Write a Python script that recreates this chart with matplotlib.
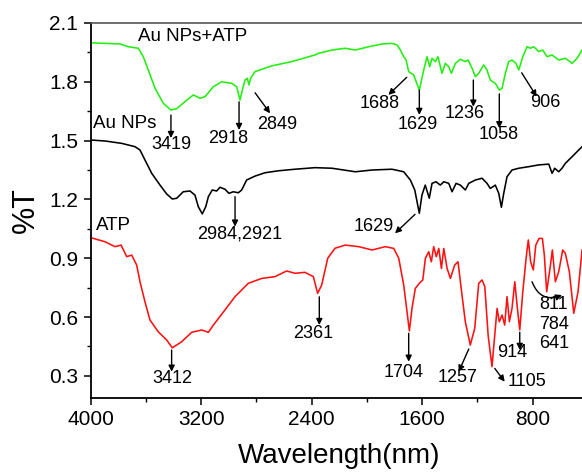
import matplotlib
matplotlib.use("Agg")
import matplotlib.pyplot as plt
from matplotlib.ticker import MultipleLocator

plt.rcParams['font.family'] = ['Liberation Sans', 'DejaVu Sans']

# Au NPs+ATP (green), wavenumber / %T
wn_green = [4000, 3896, 3788, 3728, 3655, 3619, 3583, 3534, 3474, 3419, 3377, 3317,
            3257, 3209, 3172, 3112, 3052, 2979, 2943, 2919, 2902, 2883, 2866, 2854,
            2842, 2810, 2690, 2545, 2376, 2352, 2253, 2157, 2084, 1987, 1891, 1819,
            1782, 1758, 1734, 1717, 1698, 1662, 1621, 1589, 1565, 1546, 1529, 1505,
            1486, 1457, 1433, 1408, 1389, 1360, 1324, 1288, 1268, 1239, 1215, 1191,
            1155, 1131, 1107, 1071, 1042, 1022, 998, 974, 950, 921, 901, 872, 841,
            817, 793, 757, 728, 696, 660, 612, 564, 515, 479, 443]
t_green = [1.999, 1.996, 1.993, 1.979, 1.971, 1.928, 1.860, 1.767, 1.690, 1.656, 1.663, 1.699,
           1.733, 1.716, 1.724, 1.775, 1.800, 1.792, 1.775, 1.707, 1.758, 1.809, 1.818, 1.784,
           1.818, 1.852, 1.881, 1.903, 1.937, 1.945, 1.962, 1.971, 1.962, 1.979, 1.993, 1.996,
           1.988, 1.962, 1.928, 1.911, 1.852, 1.835, 1.758, 1.860, 1.928, 1.877, 1.920, 1.903,
           1.928, 1.843, 1.894, 1.877, 1.843, 1.894, 1.915, 1.903, 1.911, 1.869, 1.826, 1.843,
           1.886, 1.860, 1.809, 1.792, 1.758, 1.767, 1.843, 1.903, 1.911, 1.894, 1.860, 1.928, 1.979,
           1.971, 1.979, 1.954, 1.962, 1.928, 1.937, 1.911, 1.920, 1.894, 1.920, 1.962]

# Au NPs (black)
wn_black = [4000, 3896, 3776, 3679, 3643, 3607, 3558, 3498, 3450, 3409, 3377, 3330,
            3281, 3245, 3221, 3192, 3167, 3148, 3120, 3088, 3064, 3028, 2999, 2968,
            2931, 2907, 2871, 2810, 2738, 2642, 2521, 2376, 2253, 2084, 1963, 1819,
            1734, 1686, 1654, 1621, 1602, 1578, 1549, 1529, 1500, 1469, 1444, 1408,
            1384, 1355, 1324, 1288, 1263, 1215, 1167, 1131, 1107, 1071, 1046, 1027,
            1010, 986, 950, 901, 829, 757, 684, 660, 641, 612, 588, 564, 515, 467, 443]
t_black = [1.503, 1.498, 1.486, 1.469, 1.452, 1.401, 1.333, 1.273, 1.228, 1.202, 1.206, 1.239,
           1.243, 1.222, 1.163, 1.126, 1.163, 1.214, 1.248, 1.243, 1.262, 1.252, 1.231, 1.239,
           1.234, 1.248, 1.299, 1.319, 1.336, 1.346, 1.354, 1.362, 1.359, 1.341, 1.350, 1.354,
           1.341, 1.299, 1.248, 1.129, 1.222, 1.273, 1.206, 1.282, 1.290, 1.273, 1.290, 1.282,
           1.239, 1.282, 1.273, 1.248, 1.282, 1.299, 1.308, 1.282, 1.256, 1.273, 1.231, 1.160,
           1.231, 1.316, 1.350, 1.359, 1.367, 1.376, 1.380, 1.333, 1.359, 1.341, 1.359, 1.384,
           1.418, 1.452, 1.469]

# ATP (red)
wn_red = [4000, 3896, 3824, 3780, 3739, 3703, 3667, 3643, 3607, 3571, 3511, 3450,
          3409, 3341, 3269, 3196, 3148, 3112, 3028, 2955, 2859, 2762, 2666, 2581,
          2521, 2449, 2388, 2357, 2328, 2284, 2231, 2157, 2060, 1963, 1867, 1806,
          1770, 1734, 1710, 1693, 1674, 1650, 1621, 1596, 1577, 1553, 1534, 1517,
          1498, 1480, 1461, 1444, 1420, 1396, 1365, 1341, 1312, 1288, 1252, 1220,
          1191, 1167, 1147, 1123, 1095, 1075, 1058, 1042, 1022, 1003, 986, 969, 950,
          930, 911, 894, 872, 848, 832, 815, 796, 778, 754, 730, 716, 699, 675, 658,
          636, 612, 583, 564, 535, 503, 472, 443]
t_red = [1.005, 0.984, 0.959, 0.967, 0.908, 0.916, 0.865, 0.780, 0.678, 0.585, 0.525, 0.483,
         0.443, 0.474, 0.522, 0.534, 0.522, 0.559, 0.636, 0.704, 0.772, 0.797, 0.806, 0.835,
         0.823, 0.828, 0.806, 0.721, 0.763, 0.900, 0.951, 0.967, 0.959, 0.942, 0.959, 0.950,
         0.900, 0.763, 0.627, 0.529, 0.644, 0.746, 0.772, 0.789, 0.900, 0.933, 0.882, 0.959,
         0.908, 0.950, 0.848, 0.950, 0.848, 0.797, 0.865, 0.882, 0.712, 0.576, 0.457, 0.542,
         0.772, 0.789, 0.755, 0.508, 0.347, 0.508, 0.644, 0.576, 0.610, 0.559, 0.704, 0.576, 0.644,
         0.780, 0.644, 0.534, 0.729, 0.900, 0.993, 0.882, 0.840, 0.967, 1.001, 1.001, 0.916,
         0.729, 0.848, 0.942, 0.780, 0.831, 0.942, 0.925, 0.831, 0.619, 0.729, 0.942]

x_ticks = [4000, 3200, 2400, 1600, 800]
y_ticks = [0.3, 0.6, 0.9, 1.2, 1.5, 1.8, 2.1]


def mark(ax, label, tip, start, txt, rad=0.0):
    # arrow from the peak to the label, label text placed separately
    ax.annotate('', xy=tip, xytext=start,
                arrowprops=dict(arrowstyle='-|>', color='k', lw=1.0,
                                mutation_scale=9, shrinkA=0, shrinkB=0,
                                connectionstyle='arc3,rad=%s' % rad))
    ax.text(txt[0], txt[1], label, fontsize=13, ha='center', va='center')


def main():
    fig = plt.figure(figsize=(5.82, 4.72), dpi=100)
    ax = fig.add_axes([0.1558, 0.1568, 0.8545, 0.7945])

    ax.plot(wn_green, t_green, color='#22f011', lw=1.15)
    ax.plot(wn_black, t_black, color='black', lw=1.15)
    ax.plot(wn_red, t_red, color='#ff1111', lw=1.15)

    ax.set_xlim(4000, 400)
    ax.set_ylim(0.187, 2.1)
    ax.set_xticks(x_ticks)
    ax.set_yticks(y_ticks)
    ax.set_yticklabels(['%.1f' % v for v in y_ticks])
    ax.xaxis.set_minor_locator(MultipleLocator(400))
    ax.yaxis.set_minor_locator(MultipleLocator(0.15))
    ax.tick_params(which='major', direction='out', length=5, width=1.1,
                   labelsize=15, pad=4, top=False, right=False)
    ax.tick_params(which='minor', direction='out', length=2.8, width=1.0,
                   top=False, right=False)
    for s in ['left', 'bottom']:
        ax.spines[s].set_linewidth(1.3)
    ax.spines['top'].set_color('#555555')
    ax.spines['top'].set_linewidth(1.2)

    ax.set_xlabel('Wavelength(nm)', fontsize=20, labelpad=10)
    ax.set_ylabel('%T', fontsize=22, labelpad=6)

    # series labels
    ax.text(3262, 2.03, 'Au NPs+ATP', fontsize=13.5, ha='center', va='center')
    ax.text(3980, 1.585, 'Au NPs', fontsize=13.5, ha='left', va='center')
    ax.text(3964, 1.069, 'ATP', fontsize=13.5, ha='left', va='center')

    # Au NPs+ATP peaks
    mark(ax, '3419', (3419, 1.513), (3419, 1.63), (3419, 1.478))
    mark(ax, '2918', (2926, 1.554), (2926, 1.698), (3001, 1.513))
    mark(ax, '2849', (2701, 1.639), (2810, 1.744), (2649, 1.580))
    mark(ax, '1688', (1845, 1.733), (1712, 1.823), (1910, 1.690))
    mark(ax, '1629', (1621, 1.631), (1621, 1.758), (1635, 1.583))
    mark(ax, '1236', (1230, 1.673), (1230, 1.809), (1295, 1.636))
    mark(ax, '1058', (1042, 1.563), (1042, 1.738), (1049, 1.529))
    mark(ax, '906', (771, 1.724), (880, 1.846), (711, 1.693))

    # Au NPs peaks
    mark(ax, '2984,2921', (2955, 1.061), (2955, 1.214), (2919, 1.022))
    mark(ax, '1629', (1797, 1.027), (1652, 1.124), (1953, 1.061))

    # ATP peaks
    mark(ax, '3412', (3414, 0.321), (3414, 0.432), (3409, 0.284))
    mark(ax, '2361', (2345, 0.559), (2345, 0.703), (2388, 0.517))
    mark(ax, '1704', (1698, 0.372), (1698, 0.517), (1734, 0.316))
    mark(ax, '1257', (1336, 0.321), (1263, 0.437), (1341, 0.290))
    mark(ax, '1105', (1003, 0.270), (1075, 0.338), (845, 0.270))
    mark(ax, '914', (894, 0.432), (894, 0.522), (950, 0.418))
    mark(ax, '811\n784\n641', (588, 0.712), (805, 0.780), (648, 0.563), rad=0.5)

    fig.savefig('out.png', dpi=100)


if __name__ == "__main__":
    main()
